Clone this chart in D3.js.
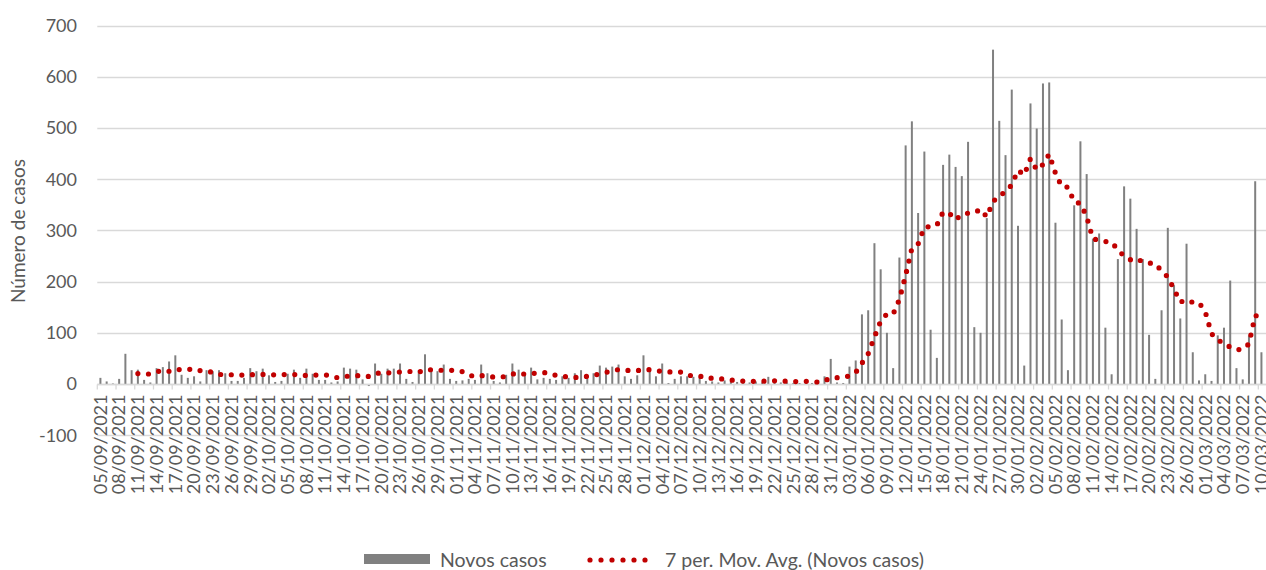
<!DOCTYPE html>
<html><head><meta charset="utf-8">
<script src="https://cdn.jsdelivr.net/npm/d3@7"></script>
<style>
html,body{margin:0;padding:0;background:#fff;}
svg{display:block;}
text{font-family:"Lato","Open Sans",sans-serif;fill:#595959;}
</style></head>
<body>
<svg id="chart" width="1266" height="570"></svg>
<script>
// ---- data ----
const startDate = "05/09/2021";
const novosCasos = [
 12,5,1,10,59,27,28,8,3,31,
 33,44,56,18,12,15,5,27,25,27,
 21,6,6,12,31,25,30,17,4,6,
 20,28,12,30,20,8,8,3,5,32,
 30,28,9,-4,40,20,30,30,40,10,
 4,27,58,25,25,38,10,6,7,10,
 8,38,21,6,3,18,40,28,17,32,
 9,12,10,8,15,12,21,27,10,21,
 36,32,34,38,15,10,17,56,25,15,
 40,2,10,15,15,14,15,6,5,3,
 7,5,4,10,3,5,3,14,5,3,
 3,2,2,8,2,8,15,49,3,2,
 34,46,136,144,275,224,100,31,247,466,
 513,334,454,106,51,428,448,424,406,473,
 111,100,324,653,514,447,575,309,36,548,
 499,587,589,315,126,27,349,474,410,284,
 294,110,19,244,386,362,303,244,96,10,
 144,305,193,128,274,62,7,19,6,95,
 110,202,31,9,95,396,62
];
const yTicks = [-100,0,100,200,300,400,500,600,700];
const maPeriod = 7;
const seriesNames = ["Novos casos", "7 per. Mov. Avg. (Novos casos)"];
const yTitle = "Número de casos";

// ---- derived ----
const parse = d3.timeParse("%d/%m/%Y");
const fmt = d3.timeFormat("%d/%m/%Y");
const d0 = parse(startDate);
const dates = novosCasos.map((v,i)=>fmt(d3.timeDay.offset(d0,i)));
const ma = novosCasos.map((v,i)=> i < maPeriod-1 ? null : d3.mean(novosCasos.slice(i-maPeriod+1,i+1)));

const svg = d3.select("#chart");
const W = 1266;
const step = 6.242;
const left = 97.3;
const x = d3.scaleBand().domain(dates).range([left, left + step*dates.length]).paddingInner(0.68).paddingOuter(0.34);
const y = d3.scaleLinear().domain([-100,700]).range([435.2, 25.6]);
const cx = d => x(d) + x.bandwidth()/2;

// gridlines
svg.append("g").selectAll("line").data(yTicks).join("line")
  .attr("x1", left).attr("x2", W).attr("y1", d=>Math.round(y(d))+0.5).attr("y2", d=>Math.round(y(d))+0.5)
  .attr("stroke","#D9D9D9").attr("stroke-width",1.3);

// y labels
svg.append("g").selectAll("text").data(yTicks).join("text")
  .attr("x", 77).attr("y", d=>y(d)).attr("dy","0.35em").attr("text-anchor","end")
  .style("font-size","18px").text(d=>d);

// y title
svg.append("text").attr("transform","translate(18,231) rotate(-90)").attr("text-anchor","middle")
  .attr("dy","0.35em").style("font-size","19px").text(yTitle);

// bars
svg.append("g").selectAll("rect").data(novosCasos).join("rect")
  .attr("x",(v,i)=>x(dates[i])).attr("width",x.bandwidth())
  .attr("y",v=>y(Math.max(0,v))).attr("height",v=>Math.abs(y(v)-y(0)))
  .attr("fill","#808080");

// x axis line & ticks
const y0 = Math.round(y(0))+0.5;
svg.append("line").attr("x1",left).attr("x2",W).attr("y1",y0).attr("y2",y0).attr("stroke","#D9D9D9").attr("stroke-width",1.3);
const tickDates = dates.filter((d,i)=>i%3===0);
svg.append("g").selectAll("line").data(tickDates).join("line")
  .attr("x1",d=>x(d)-x.step()*x.paddingOuter()).attr("x2",d=>x(d)-x.step()*x.paddingOuter())
  .attr("y1",y0).attr("y2",y0+5).attr("stroke","#D9D9D9").attr("stroke-width",1.3);
svg.append("g").selectAll("text").data(tickDates).join("text")
  .attr("transform",d=>`translate(${cx(d)},${y0+10}) rotate(-90)`)
  .attr("text-anchor","end").attr("dy","0.35em").style("font-size","18px").text(d=>d);

// moving average dotted line
const line = d3.line().defined(d=>d.v!==null).x(d=>cx(d.d)).y(d=>y(d.v));
svg.append("path").datum(ma.map((v,i)=>({d:dates[i],v})))
  .attr("d",line).attr("fill","none").attr("stroke","#C00000").attr("stroke-width",5.2)
  .attr("stroke-linecap","round").attr("stroke-dasharray","0 10.6");

// legend
const lg = svg.append("g");
lg.append("rect").attr("x",364).attr("y",554).attr("width",66).attr("height",10).attr("fill","#808080");
lg.append("text").attr("x",440).attr("y",567).style("font-size","19.5px").text(seriesNames[0]);
lg.append("line").attr("x1",590).attr("x2",656).attr("y1",560).attr("y2",560)
  .attr("stroke","#C00000").attr("stroke-width",5.2).attr("stroke-linecap","round").attr("stroke-dasharray","0 11");
lg.append("text").attr("x",665).attr("y",567).style("font-size","19.5px").text(seriesNames[1]);
</script>
</body></html>
